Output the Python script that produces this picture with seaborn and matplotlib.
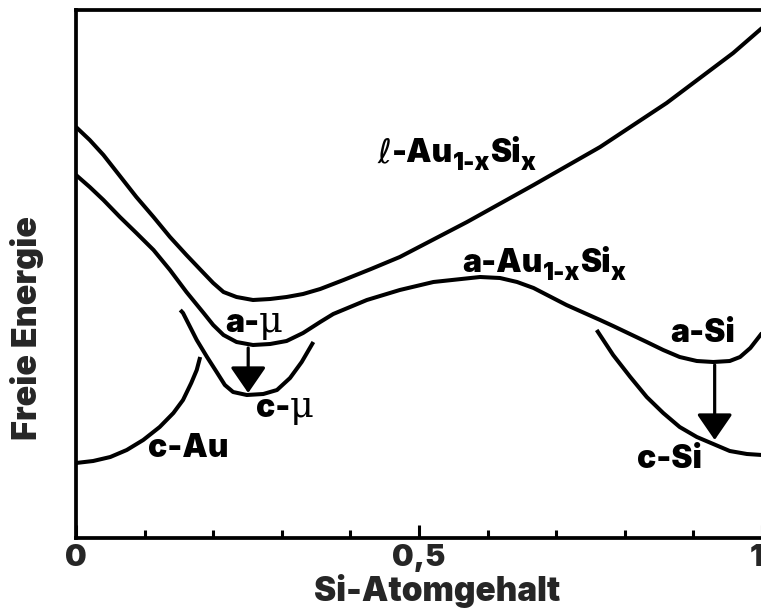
import matplotlib
matplotlib.use("Agg")
import matplotlib.pyplot as plt
from matplotlib.transforms import ScaledTranslation
import pandas as pd
import seaborn as sns

# Schematic free-energy curves of the Au-Si system (arbitrary energy units)
liquid_x = [0.0, 0.020, 0.040, 0.064, 0.088, 0.113, 0.137, 0.161, 0.186, 0.200,
            0.215, 0.234, 0.258, 0.283, 0.307, 0.331, 0.356, 0.390, 0.430, 0.472,
            0.570, 0.667, 0.764, 0.861, 0.958, 1.0]
liquid_g = [4.11, 3.98, 3.83, 3.62, 3.41, 3.21, 3.01, 2.83, 2.65, 2.55,
            2.46, 2.41, 2.38, 2.39, 2.41, 2.44, 2.49, 2.58, 2.69, 2.81,
            3.16, 3.53, 3.91, 4.35, 4.85, 5.10]

amorph_x = [0.0, 0.020, 0.040, 0.064, 0.088, 0.113, 0.137, 0.161, 0.186, 0.200,
            0.215, 0.234, 0.258, 0.283, 0.307, 0.331, 0.356, 0.375, 0.424, 0.472,
            0.521, 0.589, 0.618, 0.643, 0.667, 0.715, 0.764, 0.783, 0.832, 0.856,
            0.880, 0.905, 0.929, 0.953, 0.968, 0.983, 1.0]
amorph_g = [3.63, 3.51, 3.38, 3.21, 3.05, 2.88, 2.68, 2.46, 2.25, 2.13,
            2.03, 1.96, 1.93, 1.94, 1.97, 2.05, 2.16, 2.24, 2.38, 2.48,
            2.56, 2.61, 2.60, 2.56, 2.50, 2.33, 2.18, 2.12, 1.96, 1.88,
            1.81, 1.77, 1.76, 1.77, 1.81, 1.90, 2.05]

cAu_x = [0.0, 0.025, 0.050, 0.074, 0.098, 0.122, 0.142, 0.156, 0.168, 0.176, 0.181]
cAu_g = [0.75, 0.77, 0.81, 0.88, 0.98, 1.11, 1.25, 1.38, 1.55, 1.68, 1.81]

cmu_x = [0.152, 0.156, 0.176, 0.191, 0.205, 0.217, 0.229, 0.249, 0.273, 0.293,
         0.312, 0.329, 0.346]
cmu_g = [2.28, 2.25, 1.98, 1.81, 1.66, 1.53, 1.46, 1.43, 1.44, 1.48,
         1.60, 1.76, 1.96]

cSi_x = [0.759, 0.783, 0.808, 0.832, 0.856, 0.880, 0.905, 0.929, 0.953, 0.978, 1.0]
cSi_g = [2.08, 1.83, 1.61, 1.41, 1.25, 1.11, 1.01, 0.94, 0.87, 0.84, 0.83]

# Crystallisation steps: composition, amorphous energy, crystalline energy
arrow_x = [0.251, 0.931]
arrow_from = [1.90, 1.73]
arrow_to = [1.45, 0.98]

major_ticks = [0.0, 0.5, 1.0]
major_labels = ["0", "0,5", "1"]
minor_ticks = [0.1, 0.2, 0.3, 0.4, 0.6, 0.7, 0.8, 0.9]

sns.set_theme(style="white")
plt.rcParams["font.family"] = ["Inter", "DejaVu Sans"]
plt.rcParams["font.weight"] = 900

fig = plt.figure(figsize=(7.61, 6.10), dpi=100)
ax = fig.add_axes([76 / 761, 72 / 610, 686 / 761, 528 / 610])

curves = [
    ("liquid", liquid_x, liquid_g),
    ("amorph", amorph_x, amorph_g),
    ("c-Au", cAu_x, cAu_g),
    ("c-mu", cmu_x, cmu_g),
    ("c-Si", cSi_x, cSi_g),
]
for name, xs, gs in curves:
    df = pd.DataFrame({"x": xs, "G": gs})
    sns.lineplot(data=df, x="x", y="G", ax=ax, color="black", linewidth=2.9,
                 estimator=None, sort=False, solid_capstyle="butt",
                 solid_joinstyle="round")

for xa, g0, g1 in zip(arrow_x, arrow_from, arrow_to):
    ax.annotate("", xy=(xa, g1), xytext=(xa, g0),
                arrowprops=dict(arrowstyle="-|>,head_length=1.6,head_width=1.1",
                                mutation_scale=10, lw=2.3, color="black",
                                shrinkA=0, shrinkB=0))

LABEL_SIZE = 23
BOLD = ["Inter", "DejaVu Sans"]
THIN = ["DejaVu Serif", "DejaVu Sans"]


def rich_label(x, y, pieces, size=LABEL_SIZE):
    """Write a label made of bold, thin and subscript pieces on one baseline."""
    prev = None
    for text, kind in pieces:
        kw = dict(color="black", ha="left", va="baseline")
        dy = 0
        if kind == "bold":
            kw.update(fontsize=size, fontweight=900, family=BOLD)
        elif kind == "sub":
            kw.update(fontsize=size * 0.76, fontweight=900, family=BOLD)
            dy = -size * 0.24
        elif kind == "ell":
            kw.update(fontsize=size * 1.05, fontweight="normal", family=["DejaVu Sans"])
        else:
            kw.update(fontsize=size * 1.15, fontweight="normal", family=THIN)
        if prev is None:
            prev = ax.annotate(text, xy=(x, y), xycoords="data",
                               xytext=(0, dy), textcoords="offset points",
                               annotation_clip=False, **kw)
        else:
            prev = ax.annotate(text, xy=(1, y), xycoords=(prev, "data"),
                               xytext=(0, dy), textcoords="offset points",
                               annotation_clip=False, **kw)


rich_label(0.440, 3.76, [("ℓ", "ell"), ("-Au", "bold"), ("1-x", "sub"),
                         ("Si", "bold"), ("x", "sub")])
rich_label(0.563, 2.66, [("a-Au", "bold"), ("1-x", "sub"), ("Si", "bold"), ("x", "sub")])
rich_label(0.217, 2.06, [("a-", "bold"), ("μ", "thin")])
rich_label(0.262, 1.21, [("c-", "bold"), ("μ", "thin")])
rich_label(0.105, 0.81, [("c-Au", "bold")])
rich_label(0.866, 1.96, [("a-Si", "bold")])
rich_label(0.818, 0.70, [("c-Si", "bold")])

ax.set_xlim(0, 1)
ax.set_ylim(0, 5.28)
ax.set_yticks([])
ax.set_xticks(major_ticks, labels=major_labels)
ax.set_xticks(minor_ticks, minor=True)
ax.tick_params(axis="x", which="major", direction="in", length=9.5, width=2.2,
               color="black", labelsize=22, pad=4, bottom=True)
ax.tick_params(axis="x", which="minor", direction="in", length=6, width=2.2,
               color="black", bottom=True)
xt_labels = ax.get_xticklabels()
for lbl in xt_labels:
    lbl.set_fontweight(900)
# nudge the label at the right edge slightly inwards
xt_labels[-1].set_transform(xt_labels[-1].get_transform()
                            + ScaledTranslation(-5 / 100, 0, fig.dpi_scale_trans))

for side in ["left", "top", "bottom"]:
    ax.spines[side].set_visible(True)
    ax.spines[side].set_color("black")
    ax.spines[side].set_linewidth(2.7)
ax.spines["right"].set_visible(False)

ax.set_xlabel("Si-Atomgehalt", fontsize=24, fontweight=900, va="baseline")
ax.xaxis.set_label_coords(0.526, -0.119)
ax.set_ylabel("Freie Energie", fontsize=24.5, fontweight=900, va="center")
ax.yaxis.set_label_coords(-0.072, 0.398)

fig.savefig("out.png", dpi=100)
